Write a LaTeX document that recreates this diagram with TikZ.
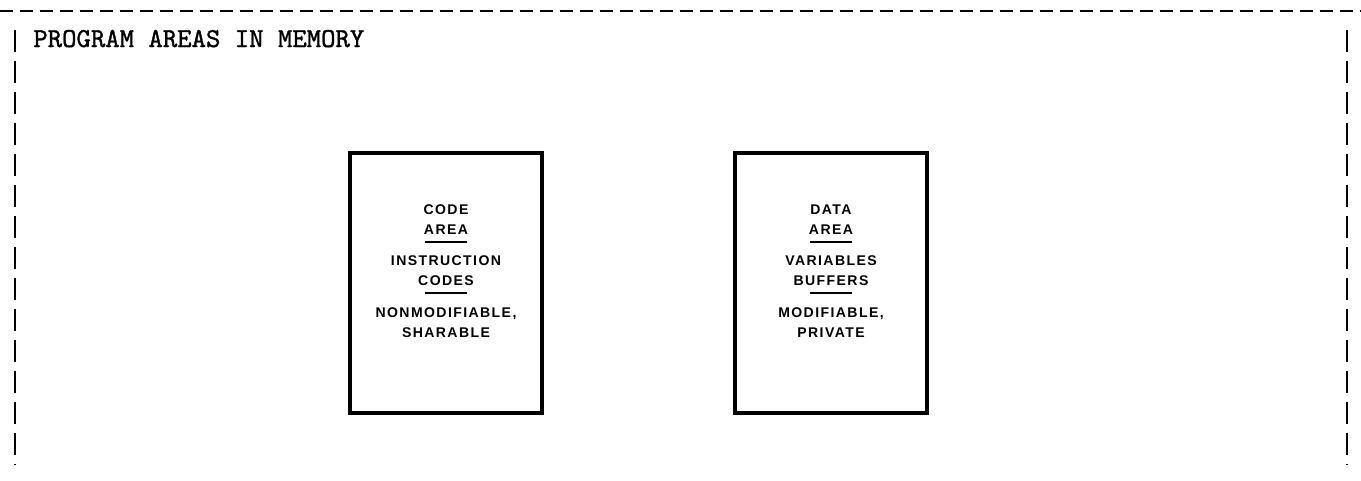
\documentclass[tikz,border=0pt]{standalone}
\usepackage{fontspec}
\setmainfont{Liberation Sans}
\newfontfamily\titlefont[Extension=.otf, FakeBold=1.2]{lmmono10-regular}

\tikzset{
    frameline/.style={line width=1.2pt},
    areabox/.style={draw, line width=1.8pt, minimum width=3.84cm, minimum height=5.2cm},
    arealabel/.style={align=center, inner sep=0pt,
        font=\fontsize{8}{11.4}\selectfont\bfseries\addfontfeature{LetterSpace=10}}
}
\newcommand{\arearule}{\rule[1.8pt]{24pt}{1.1pt}}

\begin{document}
\begin{tikzpicture}[x=0.02cm, y=-0.02cm]
    \useasboundingbox (0,0) rectangle (1361,480);
    % dashed frame
    \draw[frameline, dash pattern=on 0.26cm off 0.14cm] (0,11) -- (1361,11);
    \draw[frameline, dash pattern=on 0.45cm off 0.17cm] (15,30) -- (15,465);
    \draw[frameline, dash pattern=on 0.45cm off 0.17cm] (1347,30) -- (1347,465);
    \node[anchor=base west, inner sep=0pt, font=\titlefont\fontsize{15.6}{18}\selectfont] (title) at (33,47) {PROGRAM AREAS IN MEMORY};
    % the two areas
    \node[areabox] (code) at (446,283) {};
    \node[areabox] (data) at (831,283) {};
    \node[arealabel] (codetext) at (446,271) {CODE\\AREA\\[-5pt]\arearule\\INSTRUCTION\\CODES\\[-5pt]\arearule\\NONMODIFIABLE,\\SHARABLE};
    \node[arealabel] (datatext) at (831,271) {DATA\\AREA\\[-5pt]\arearule\\VARIABLES\\BUFFERS\\[-5pt]\arearule\\MODIFIABLE,\\PRIVATE};
\end{tikzpicture}
\end{document}
